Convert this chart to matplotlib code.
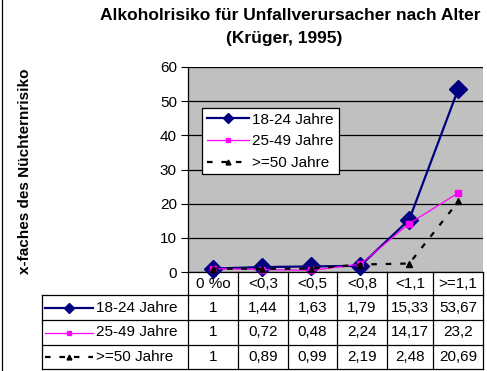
import matplotlib
matplotlib.use("Agg")
import matplotlib.pyplot as plt
from matplotlib.lines import Line2D

W, H = 487, 371

categories = ["0 %o", "<0,3", "<0,5", "<0,8", "<1,1", ">=1,1"]
labels = ["18-24 Jahre", "25-49 Jahre", ">=50 Jahre"]
values = [
    [1, 1.44, 1.63, 1.79, 15.33, 53.67],
    [1, 0.72, 0.48, 2.24, 14.17, 23.2],
    [1, 0.89, 0.99, 2.19, 2.48, 20.69],
]
cell_text = [
    ["1", "1,44", "1,63", "1,79", "15,33", "53,67"],
    ["1", "0,72", "0,48", "2,24", "14,17", "23,2"],
    ["1", "0,89", "0,99", "2,19", "2,48", "20,69"],
]
styles = [
    dict(color="#000080", lw=1.6, marker="D", ms=9, key_ms=5, ls="-"),
    dict(color="#FF00FF", lw=0.9, marker="s", ms=4, key_ms=3.5, ls="-"),
    dict(color="black", lw=1.6, marker="^", ms=4, key_ms=3.5, ls=(0, (2.5, 4))),
]

plt.rcParams["font.family"] = ["Liberation Sans", "DejaVu Sans"]

fig = plt.figure(figsize=(W / 100, H / 100), dpi=100)


def fx(x):
    return x / W


def fy(y):
    return 1 - y / H


# plot area in pixels
L, R, T, B = 188, 483, 67, 272
ax = fig.add_axes([fx(L), fy(B), fx(R - L), (B - T) / H])
ax.set_facecolor("#C0C0C0")
ax.set_xlim(0, len(categories))
ax.set_ylim(0, 60)
ax.set_yticks(range(0, 61, 10))
ax.yaxis.grid(True, color="black", lw=0.9)
ax.set_axisbelow(True)
ax.set_xticks([])
ax.tick_params(axis="y", length=5, width=0.8, labelsize=11, pad=3)
for s in ["top", "right"]:
    ax.spines[s].set_visible(False)
ax.spines["left"].set_linewidth(0.9)
ax.spines["bottom"].set_linewidth(0.9)

xs = [i + 0.5 for i in range(len(categories))]
handles = []
for lab, vals, st in zip(labels, values, styles):
    ax.plot(xs, vals, color=st["color"], lw=st["lw"], ls=st["ls"],
            marker=st["marker"], ms=st["ms"], mfc=st["color"], mec=st["color"],
            clip_on=False, zorder=3)
    handles.append(Line2D([], [], color=st["color"], lw=st["lw"], ls=st["ls"],
                          marker=st["marker"], ms=st["key_ms"], mfc=st["color"],
                          mec=st["color"], label=lab))

leg = ax.legend(handles=handles, loc="upper left",
                bbox_to_anchor=((202 - L) / (R - L), 1 - (108 - T) / (B - T)),
                fontsize=11, frameon=True, fancybox=False, edgecolor="black",
                framealpha=1, borderpad=0.3, handlelength=2.8, handletextpad=0.2,
                labelspacing=0.5, borderaxespad=0)
leg.get_frame().set_linewidth(0.9)

# titles
fig.text(fx(290), fy(15), "Alkoholrisiko für Unfallverursacher nach Alter",
         ha="center", va="center", fontsize=12.5, fontweight="bold")
fig.text(fx(284), fy(38), "(Krüger, 1995)", ha="center", va="center",
         fontsize=12.5, fontweight="bold")
fig.text(fx(25), fy(171), "x-faches des Nüchternrisiko", rotation=90,
         ha="center", va="center", fontsize=11, fontweight="bold")

# data table
col_edges = [188, 238, 288, 337, 387, 433, 483]
row_edges = [272, 295, 320, 345, 369]
key_left = 42


def hline(x0, x1, y):
    fig.add_artist(Line2D([fx(x0), fx(x1)], [fy(y), fy(y)], color="black", lw=0.9))


def vline(x, y0, y1):
    fig.add_artist(Line2D([fx(x), fx(x)], [fy(y0), fy(y1)], color="black", lw=0.9))


for x in col_edges:
    vline(x, row_edges[0], row_edges[-1])
vline(key_left, row_edges[1], row_edges[-1])
for y in row_edges[1:]:
    hline(key_left, col_edges[-1], y)

for j, cat in enumerate(categories):
    cx = (col_edges[j] + col_edges[j + 1]) / 2
    fig.text(fx(cx), fy((row_edges[0] + row_edges[1]) / 2 + 1), cat,
             ha="center", va="center", fontsize=11)

for i, (lab, st) in enumerate(zip(labels, styles)):
    cy = (row_edges[i + 1] + row_edges[i + 2]) / 2
    fig.add_artist(Line2D([fx(45), fx(93)], [fy(cy), fy(cy)], color=st["color"],
                          lw=st["lw"], ls=st["ls"]))
    fig.add_artist(Line2D([fx(69)], [fy(cy)], color=st["color"], marker=st["marker"],
                          ms=st["key_ms"], mfc=st["color"], mec=st["color"]))
    fig.text(fx(96), fy(cy), lab, ha="left", va="center", fontsize=11)
    for j, t in enumerate(cell_text[i]):
        cx = (col_edges[j] + col_edges[j + 1]) / 2
        fig.text(fx(cx), fy(cy), t, ha="center", va="center", fontsize=11)

# chart border on the left edge
fig.add_artist(Line2D([fx(1.5), fx(1.5)], [0, 1], color="black", lw=0.9))

fig.savefig("out.png", dpi=100)
